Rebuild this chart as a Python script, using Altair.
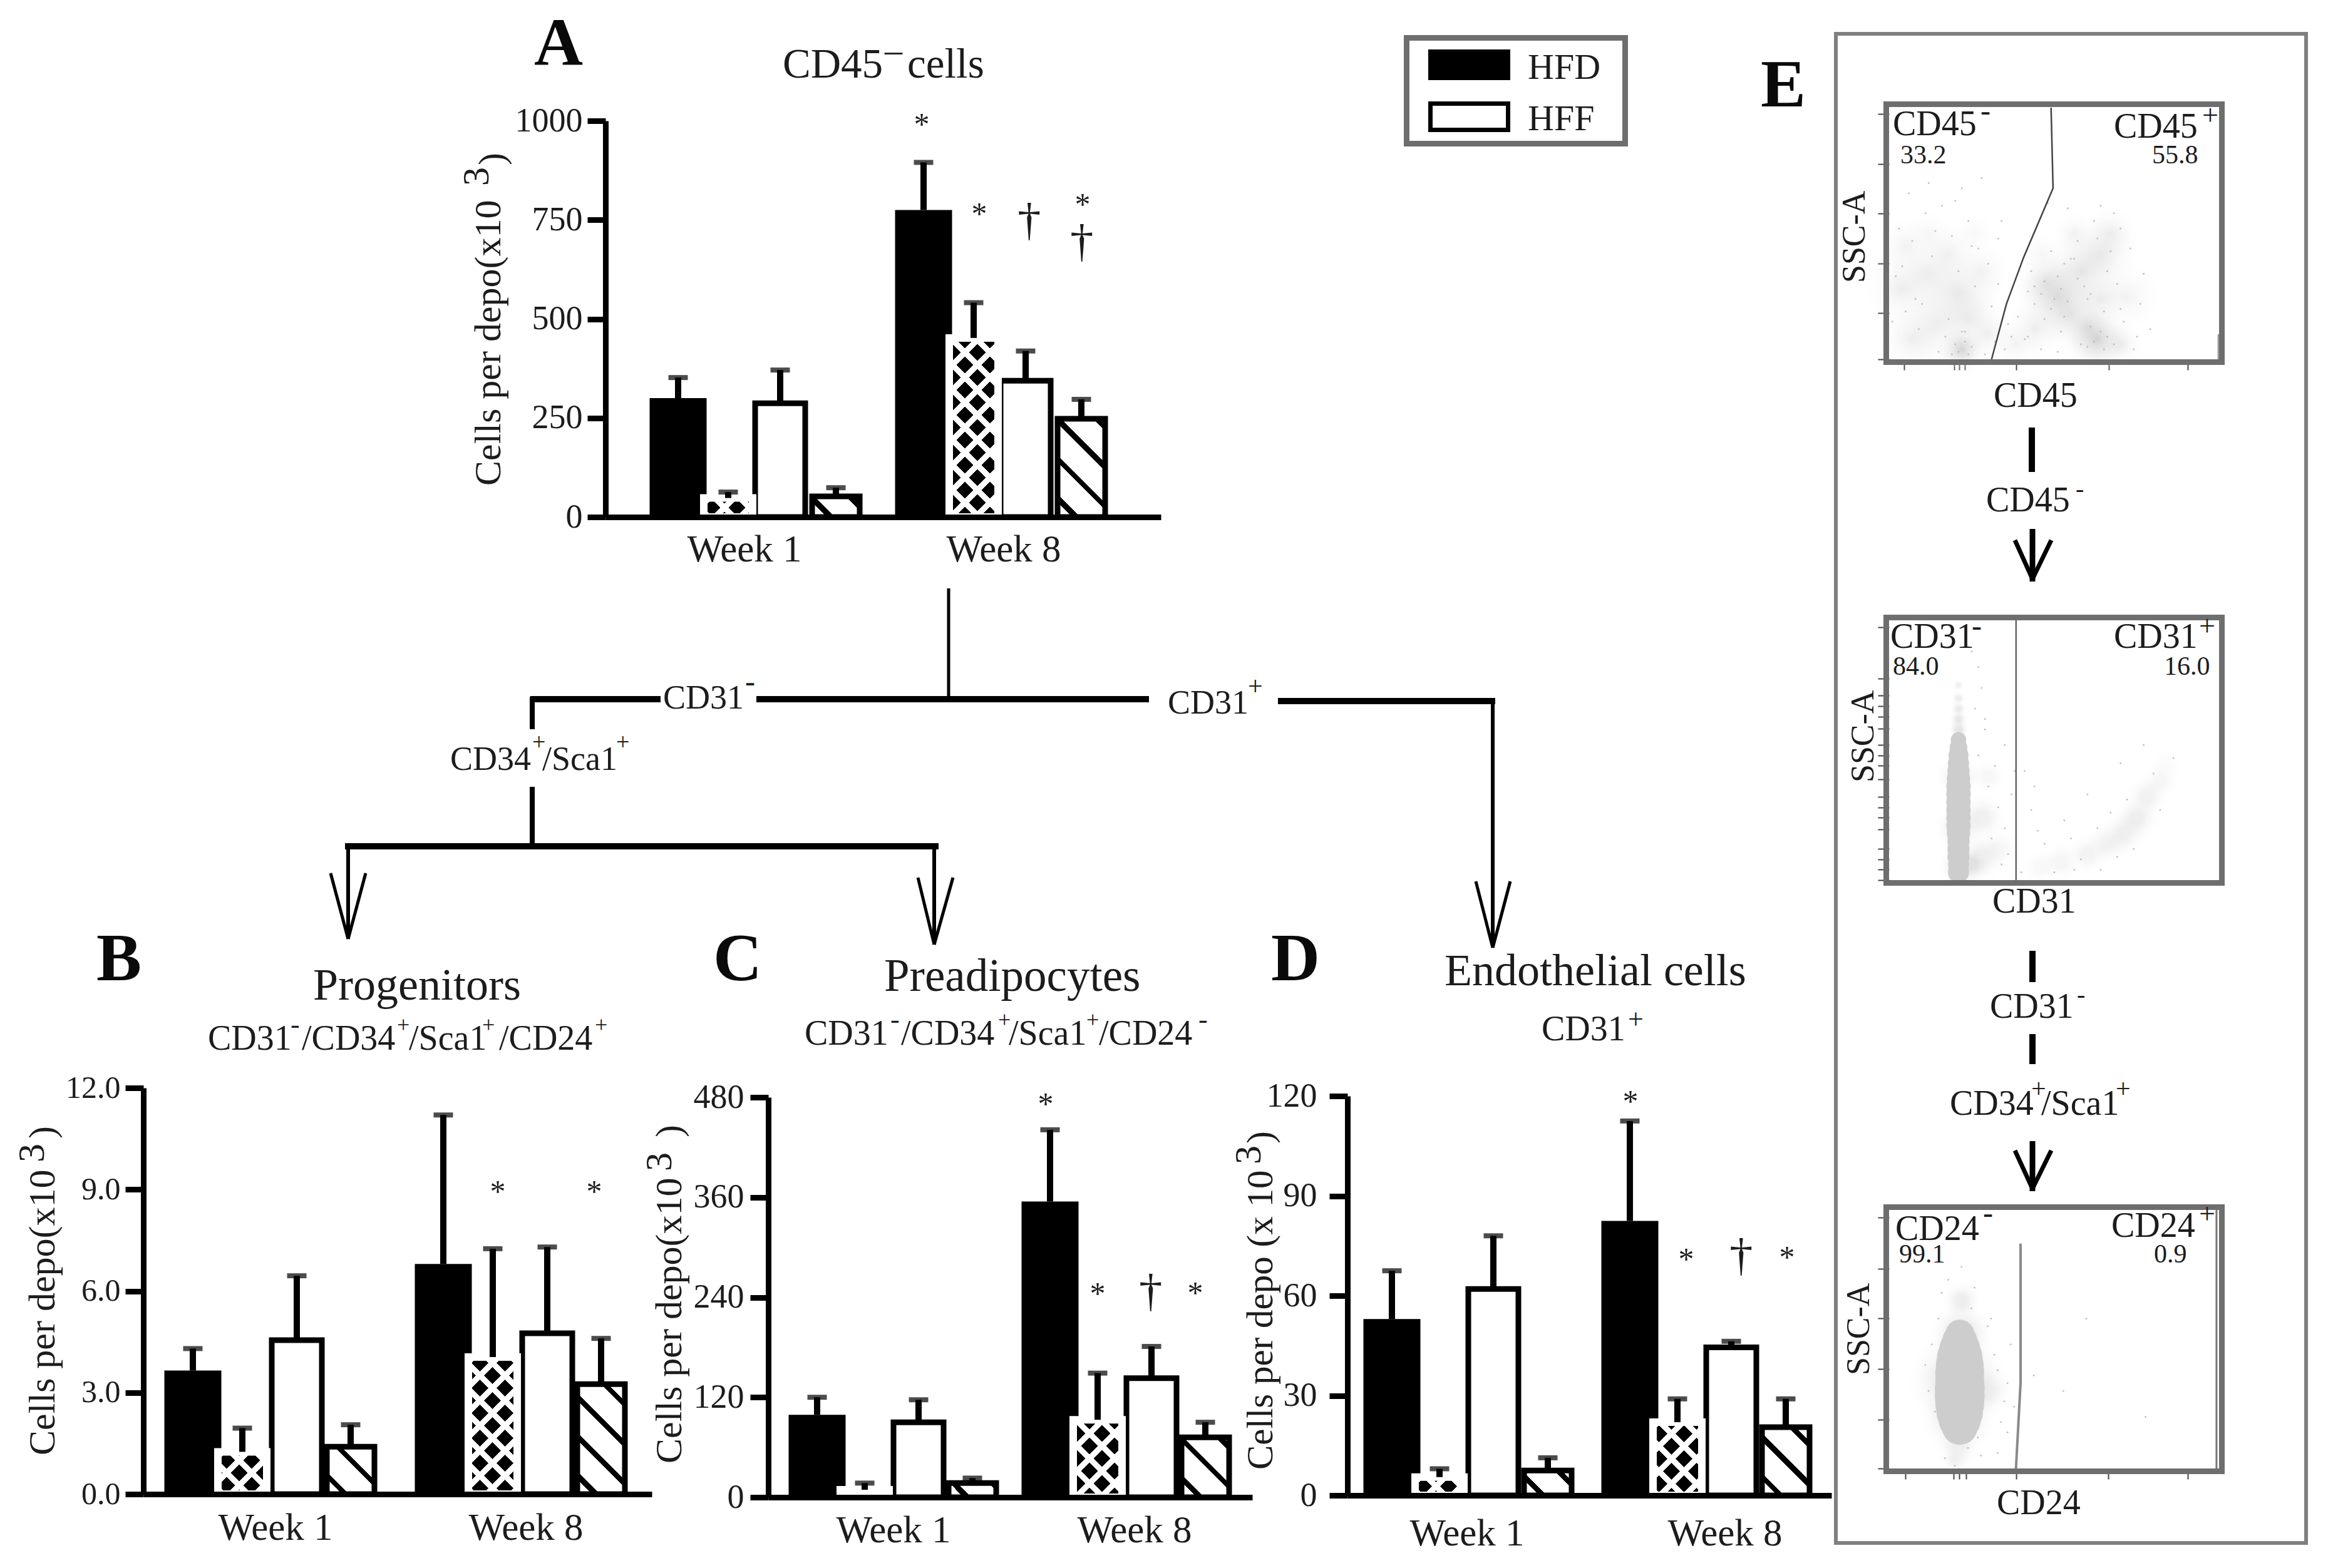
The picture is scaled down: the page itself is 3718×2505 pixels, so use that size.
import altair as alt
import pandas as pd

FONT = "Liberation Serif"
INK = "#1c1c1c"
GREY = "#6e6e6e"
SHIFT = 8
W_TOTAL, H_TOTAL = 3702, 2489

WEEKS = ["Week 1", "Week 8"]
SERIES = ["HFD", "HFD hatched", "HFF", "HFF hatched"]

A_VALUES = [300, 48, 287, 52, 775, 452, 344, 248]
A_TOPS = [352, 63, 371, 74, 895, 541, 419, 297]
B_VALUES = [3.65, 1.25, 4.55, 1.4, 6.8, 4.05, 4.75, 3.25]
B_TOPS = [4.3, 1.95, 6.45, 2.05, 11.2, 7.25, 7.3, 4.6]
C_VALUES = [99, 9, 90, 17, 355, 93, 143, 72]
C_TOPS = [120, 17, 117, 23, 441, 149, 181, 90]
D_VALUES = [53, 5.5, 62, 7.5, 82.5, 22, 44.5, 20.5]
D_TOPS = [67.5, 8, 78, 11.3, 112.5, 29, 46.3, 29]

A_TICKS = [0, 250, 500, 750, 1000]
B_TICKS = [0, 3, 6, 9, 12]
C_TICKS = [0, 120, 240, 360, 480]
D_TICKS = [0, 30, 60, 90, 120]

# flow plots: density patches (x %, y %, radius px, opacity); opacity near 1 = solid core
F1_BLOBS = [(4,28,80,.3),(12,34,80,.3),(21,26,85,.4),(24,16,70,.32),(14,14,85,.3),(22,4,50,.75),
            (28,35,60,.22),(7,8,70,.26),(5,45,60,.22),(18,42,65,.24),(30,10,55,.24),(12,50,50,.14),(26,50,45,.12),
            (51,25,80,.75),(48,30,62,.45),(55,18,75,.45),(63,8,65,.85),(60,13,55,.45),(70,6,46,.3),
            (64,42,75,.4),(67,50,55,.28),(58,35,85,.4),(72,25,70,.22),(44,12,60,.3),(38,6,50,.2),(56,50,45,.22),(64,24,60,.3),(46,42,45,.16)]
F1_DOT_X = [3,7,11,16,19,24,27,30,33,5,9,13,17,21,26,31,36,2,8,15,23,29,35,41,46,52,57,62,68,73,77,44,49,54,59,65,71,75,39,43,
            48,53,61,69,74,6,12,20,28,34,4,10,14,18,25,32,37,42,47,51,56,60,66,70,76,1,22,33,64,79,
            50,52,49,47,54,51,46,53,62,64,60,66,65,61,58,68,21,23,20,24,22,19,25,63,67,70,55,57,44,42]
F1_DOT_Y = [52,47,58,61,49,55,44,38,30,19,12,41,9,35,29,21,14,33,24,3,11,2,4,8,4,11,47,55,58,44,34,22,43,60,29,19,15,9,17,35,
            62,38,26,30,4,66,70,63,72,55,37,22,51,16,45,7,9,27,16,3,40,24,35,20,22,15,68,48,61,12,
            24,28,20,31,23,33,26,17,7,11,5,9,4,13,6,6,3,7,6,2,11,2,5,48,43,52,40,32,29,9]
F2_BLOBS = [(21,3,19,1),(21,6,19,1),(21,9,20,1),(21,12,20,1),(21,15,20,1),(21,18,21,1),(21,21,22,1),(21,24,22,1),(21,27,22,1),
            (21,30,22,1),(21,33,22,1),(21,36,22,1),(21,39,21,1),(21,42,20,1),(21,45,19,1),(21,48,18,1),(21,51,16,1),(21,54,14,.9),
            (21,40,44,.35),(21,20,46,.4),(21,5,40,.4),(21,58,20,.5),(21,62,18,.45),(21,66,16,.4),(21,70,14,.35),(21,75,12,.3),
            (28,24,48,.3),(28,9,48,.3),(33,12,42,.16),(30,40,36,.16),(25,6,38,.45),
            (46,5,36,.14),(52,7,40,.18),(60,10,42,.22),(66,14,42,.26),(71,18,44,.3),(75,24,44,.32),(78,32,42,.26),(82,38,38,.16),(84,44,34,.08)]
F2_DOT_X = [27,30,33,35,29,32,36,26,34,31,28,37,40,43,47,50,55,58,63,67,72,80,86,64,69,74,82,41,45,53,60,70,77,27,25,29,35,38,44,56]
F2_DOT_Y = [48,36,28,20,58,44,10,66,6,16,74,33,3,27,14,3,16,8,20,26,31,41,47,4,9,12,27,42,19,23,33,45,52,82,88,62,52,42,36,4]
F3_BLOBS = [(21,34,96,.6),(21,20,74,.5),(22,52,62,.5),(22,65,38,.35),(21,8,42,.28),(20,3,26,.22),(30,30,50,.25),
            (21.5,34,44,1),(21.5,31,45,1),(21.5,28,45,1),(21.5,25,44,1),(21.5,22,42,1),(21.5,19,38,1),(21.5,16,32,1),
            (21.5,37,44,1),(21.5,40,43,1),(21.5,43,41,1),(21.5,46,37,1),(21.5,49,32,1),(21.5,52,26,1)]
F3_DOT_X = [12,11,14,32,33,35,36,34,30,37,18,22,26,16,24,20,27,28,15,17,25,31,36,38,33,44,53,60,78,13]
F3_DOT_Y = [30,40,22,44,38,26,33,18,55,48,73,78,70,68,8,1,12,5,58,4,62,58,14,24,6,36,30,58,20,48]

F1_GATE = [(49,100),(49.6,68),(40.7,40.5),(35.5,22),(31,0)]
F1_EDGE = [(99.6,10),(99.6,0)]
F2_GATE = [(38.4,100),(38.4,0)]
F3_GATE = [(40,87),(40,33),(38.6,0)]
F3_EDGE = [(99.6,100),(99.6,0)]


def px(v):
    return v - SHIFT


def hatch(width, height, period, thick, falling, line, ground, phase=0.0):
    """Hard-stop gradient that draws 45-degree stripes across one bar."""
    total = width + height
    k = total * width / (width ** 2 + height ** 2)
    stops = []
    p = phase
    while p - thick / 2 < total:
        a = max(0.0, (p - thick / 2) / total)
        b = min(1.0, (p + thick / 2) / total)
        if b > 0:
            stops += [(ground, a), (line, a), (line, b), (ground, b)]
        p += period
    stops = [alt.GradientStop(color=c, offset=round(o, 5)) for c, o in [(ground, 0.0)] + stops + [(ground, 1.0)]]
    if falling:
        return alt.LinearGradient(gradient="linear", stops=stops, x1=0, y1=1, x2=k, y2=1 - k * height / width)
    return alt.LinearGradient(gradient="linear", stops=stops, x1=0, y1=0, x2=k, y2=k * height / width)


def panel(values, tops, ticks, fmt, left, right, y0, ytop, c1, c2, offsets, week_offsets, lab_pad, tick_pad, lab_size):
    left, right, y0, ytop, c1, c2 = map(px, (left, right, y0, ytop, c1, c2))
    band = 300
    step = c2 - c1
    L = c1 - band / 2 - left
    R = right - (c2 + band / 2)
    xscale = alt.Scale(type="band", domain=WEEKS, range=[left, right], paddingInner=1 - band / step,
                       paddingOuter=(L + R) / 2 / step, align=L / (L + R))
    yscale = alt.Scale(domain=[0, ticks[-1]], range=[y0, ytop], nice=False)
    x_plain = alt.X("week:N", scale=xscale, axis=None)
    y_plain = alt.Y("value:Q", scale=yscale, axis=None)
    x_axis = alt.X("week:N", scale=xscale, axis=alt.Axis(
        orient="bottom", title=None, ticks=False, labelAngle=0, labelFont=FONT, labelFontSize=61, labelColor=INK, labelPadding=lab_pad,
        labelLimit=400, domainWidth=9, domainColor="black", offset=y0 - H_TOTAL, zindex=1,
        labelOffset={"condition": {"test": "datum.label == 'Week 8'", "value": week_offsets[1]}, "value": week_offsets[0]}))
    y_axis = alt.Y("value:Q", scale=yscale, axis=alt.Axis(
        orient="left", title=None, values=ticks, format=fmt, labelFont=FONT, labelFontSize=lab_size, labelColor=INK, labelPadding=tick_pad,
        labelLimit=400, domainWidth=9, domainColor="black", tickWidth=9, tickColor="black", tickSize=29, offset=-left, zindex=1, grid=False))
    rows = [dict(week=w, series=s, value=values[4 * i + j], top=tops[4 * i + j], off=offsets[j])
            for i, w in enumerate(WEEKS) for j, s in enumerate(SERIES)]
    unit = (y0 - ytop) / ticks[-1]
    layers = []
    layers.append(alt.Chart(pd.DataFrame([r for r in rows if r["series"] == "HFD"])).mark_bar(
        size=91, color="black", xOffset=offsets[0]).encode(x=x_axis, y=y_axis))
    for r in rows:
        if r["series"] == "HFF":
            layers.append(alt.Chart(pd.DataFrame([r])).mark_bar(
                size=80, fill="white", stroke="black", strokeWidth=9, xOffset=r["off"]).encode(x=x_plain, y=y_plain))
    for r in rows:
        if r["series"] == "HFF hatched":
            H = max(r["value"] * unit, 2)
            grad = hatch(76, H, 63, 12, True, "black", "white", phase=30)
            layers.append(alt.Chart(pd.DataFrame([r])).mark_bar(
                size=76, fill=grad, stroke="black", strokeWidth=9, xOffset=r["off"]).encode(x=x_plain, y=y_plain))
    for r in rows:
        if r["series"] == "HFD hatched":
            H = max(r["value"] * unit, 2)
            clear = "rgba(255,255,255,0)"
            layers.append(alt.Chart(pd.DataFrame([r])).mark_bar(
                size=78, fill="black", stroke="white", strokeWidth=12, xOffset=r["off"]).encode(x=x_plain, y=y_plain))
            layers.append(alt.Chart(pd.DataFrame([r])).mark_bar(
                size=78, fill=hatch(78, H, 40, 13, True, "white", clear, phase=8), xOffset=r["off"]).encode(x=x_plain, y=y_plain))
            layers.append(alt.Chart(pd.DataFrame([r])).mark_bar(
                size=78, fill=hatch(78, H, 40, 13, False, "white", clear, phase=8), xOffset=r["off"]).encode(x=x_plain, y=y_plain))
    for r in rows:
        d = pd.DataFrame([r])
        layers.append(alt.Chart(d).mark_rule(color="black", strokeWidth=10, xOffset=r["off"]).encode(
            x=x_plain, y=y_plain, y2="top:Q"))
        layers.append(alt.Chart(d).mark_tick(color="black", size=31, thickness=8, xOffset=r["off"]).encode(
            x=x_plain, y=alt.Y("top:Q", scale=yscale, axis=None)))
    return layers


def flow(blobs, dot_x, dot_y, gates, left, right, bottom, top, xticks, yticks, tint="#b4b4b4", core=.0):
    left, right, bottom, top = map(px, (left, right, bottom, top))
    xs = alt.Scale(domain=[0, 100], range=[left, right], nice=False)
    ys = alt.Scale(domain=[0, 100], range=[bottom, top], nice=False)
    xa = None
    if xticks:
        xa = alt.Axis(orient="bottom", title=None, values=xticks, labels=False, domain=False, grid=False, tickSize=17, tickWidth=2,
                      tickColor="#444", offset=bottom - H_TOTAL)
    ya = alt.Axis(orient="left", title=None, values=yticks, labels=False, domain=False, grid=False, tickSize=18, tickWidth=2,
                  tickColor="#444", offset=-left)
    df = pd.DataFrame(blobs, columns=["x", "y", "r", "o"])
    df["s"] = 3.14159 * df["r"] ** 2
    haze = df[df["o"] < .9]
    dense = df[df["o"] >= .9]
    dots = pd.DataFrame({"x": dot_x, "y": dot_y})
    soft = alt.RadialGradient(gradient="radial", x1=.5, y1=.5, x2=.5, y2=.5, r1=0, r2=.5, stops=[
        alt.GradientStop(color=tint, offset=0), alt.GradientStop(color=tint, offset=core),
        alt.GradientStop(color="rgba(255,255,255,0)", offset=1)])
    layers = [
        alt.Chart(haze).mark_circle(fill=soft).encode(
            x=alt.X("x:Q", scale=xs, axis=xa), y=alt.Y("y:Q", scale=ys, axis=ya),
            size=alt.Size("s:Q", scale=None), opacity=alt.Opacity("o:Q", scale=None)),
    ]
    if len(dense):
        layers.append(alt.Chart(dense).mark_circle(color=tint, opacity=1).encode(
            x=alt.X("x:Q", scale=xs, axis=None), y=alt.Y("y:Q", scale=ys, axis=None),
            size=alt.Size("s:Q", scale=None)))
    layers.append(alt.Chart(dots).mark_circle(color="#b4b4b4", size=9, opacity=.8).encode(
        x=alt.X("x:Q", scale=xs, axis=None), y=alt.Y("y:Q", scale=ys, axis=None)))
    for pts, w, col in gates:
        g = pd.DataFrame(pts, columns=["x", "y"]).reset_index()
        layers.append(alt.Chart(g).mark_line(color=col, strokeWidth=w).encode(
            x=alt.X("x:Q", scale=xs, axis=None), y=alt.Y("y:Q", scale=ys, axis=None), order="index:Q"))
    return layers


TEXTS = []


def T(t, x, y, s=56, a=0):
    TEXTS.append(dict(t=t, x=px(x), y=px(y), s=s, a=a))


def sup(sign, x, cy, s=44):
    T(sign, x, cy + .25 * s, s)


def star(cx, cy):
    T("*", cx - 12.5, cy + 23, 50)


def dagger(cx, cy):
    T("†", cx - 19, cy + 20, 75)


# panel A
T("CD45", 1250, 124, 67); sup("–", 1413, 85, 56); T("cells", 1449, 124, 67)
T("Cells per depo(x10", 799, 776, 60, 270); T("3", 780, 297, 60, 270); T(")", 805, 264, 60, 270)
star(1472, 192); star(1564, 335); dagger(1644, 355); star(1729, 320); dagger(1728, 389)
# tree labels
T("CD31", 1059, 1132, 54); sup("-", 1190, 1093, 48)
T("CD31", 1865, 1140, 54); sup("+", 1993, 1099, 42)
T("CD34", 719, 1230, 54); sup("+", 850, 1188, 38); T("/Sca1", 866, 1230, 54); sup("+", 984, 1188, 38)
# panel B
T("Progenitors", 500, 1597, 72)
T("CD31", 332, 1677, 56); sup("-", 464, 1640, 44); T("/CD34", 482, 1677, 56); sup("+", 634, 1640, 36)
T("/Sca1", 653, 1677, 56); sup("+", 770, 1640, 36); T("/CD24", 797, 1677, 56); sup("+", 950, 1640, 36)
T("Cells per depo(x10", 87, 2325, 60, 270); T("3", 70, 1857, 60, 270); T(")", 87, 1819, 60, 270)
star(795, 1897); star(949, 1897)
# panel C
T("Preadipocytes", 1412, 1583, 73)
T("CD31", 1285, 1669, 56); sup("-", 1422, 1632, 44); T("/CD34", 1439, 1669, 56); sup("+", 1594, 1632, 36)
T("/Sca1", 1611, 1669, 56); sup("+", 1735, 1632, 36); T("/CD24", 1755, 1669, 56); sup("-", 1914, 1632, 44)
T("Cells per depo(x10", 1088, 2338, 60, 270); T("3", 1072, 1871, 60, 270); T(")", 1088, 1817, 60, 270)
star(1670, 1757); star(1753, 2060); dagger(1838, 2066); star(1909, 2059)
# panel D
T("Endothelial cells", 2307, 1574, 72)
T("CD31", 2462, 1662, 56); sup("+", 2600, 1632, 44)
T("Cells per depo (x 10", 2032, 2348, 59, 270); T("3", 2013, 1860, 60, 270); T(")", 2032, 1827, 60, 270)
star(2604, 1753); star(2693, 2005); dagger(2781, 2009); star(2854, 2002)
# legend
T("HFD", 2440, 126, 58); T("HFF", 2440, 208, 58)
# panel E
T("CD45", 3023, 216, 56); sup("-", 3163, 181, 48); T("33.2", 3035, 261, 42)
T("CD45", 3376, 220, 56); sup("+", 3517, 187, 46); T("55.8", 3437, 261, 42)
T("SSC-A", 2978, 452, 52, 270); T("CD45", 3184, 650, 56)
T("CD45", 3172, 817, 56); sup("-", 3315, 784, 40)
T("CD31", 3019, 1035, 56); sup("-", 3149, 1004, 48); T("84.0", 3023, 1078, 42)
T("CD31", 3376, 1035, 56); sup("+", 3512, 1003, 46); T("16.0", 3456, 1078, 42)
T("SSC-A", 2992, 1250, 52, 270); T("CD31", 3182, 1458, 56)
T("CD31", 3178, 1626, 56); sup("-", 3317, 1592, 40)
T("CD34", 3114, 1781, 56); sup("+", 3244, 1742, 42); T("/Sca1", 3260, 1781, 56); sup("+", 3379, 1742, 42)
T("CD24", 3027, 1981, 56); sup("-", 3167, 1942, 48); T("99.1", 3033, 2017, 42)
T("CD24", 3372, 1976, 56); sup("+", 3512, 1942, 46); T("0.9", 3440, 2017, 42)
T("SSC-A", 2985, 2197, 52, 270); T("CD24", 3189, 2419, 56)

LETTERS = [("A", 853, 104), ("B", 154, 1566), ("C", 1139, 1566), ("D", 2030, 1566), ("E", 2812, 170)]

# connector lines: x, y, x2, y2, width
LINES = [
    (1515, 940, 1515, 1116, 5), (847, 1117, 1055, 1117, 10), (1208, 1117, 1835, 1117, 10), (2041, 1120, 2388, 1120, 10),
    (850, 1113, 850, 1165, 8), (850, 1257, 850, 1348, 8), (551, 1352, 1499, 1352, 10),
    (556, 1348, 556, 1500, 6), (528, 1395, 556, 1500, 5), (584, 1395, 556, 1500, 5),
    (1492, 1348, 1492, 1509, 6), (1466, 1402, 1492, 1509, 5), (1522, 1402, 1492, 1509, 5),
    (2384, 1116, 2384, 1514, 6), (2357, 1408, 2384, 1514, 5), (2412, 1408, 2384, 1514, 5),
    (3245, 683, 3245, 754, 10), (3246, 845, 3246, 929, 9), (3218, 863, 3246, 925, 7), (3276, 863, 3246, 925, 7),
    (3246, 1519, 3246, 1569, 10), (3246, 1652, 3246, 1700, 10),
    (3246, 1823, 3246, 1903, 9), (3218, 1838, 3246, 1899, 7), (3276, 1838, 3246, 1899, 7),
]
# outlined boxes: x, y, x2, y2, colour, width
BOXES = [
    (2932, 54, 3683, 2465, "#808080", 6),
    (2246.5, 60.5, 2595.5, 229.5, GREY, 9),
    (3012.5, 166.5, 3548.5, 578.5, GREY, 9),
    (3012.5, 986.5, 3548.5, 1410.5, GREY, 9),
    (3012.5, 1928.5, 3548.5, 2350.5, GREY, 9),
    (2284.5, 165.5, 2408.5, 207.5, "black", 7),
]
SOLID = [(2281, 79, 2412, 128)]

pA = panel(A_VALUES, A_TOPS, A_TICKS, "d", 967, 1854, 826, 193, 1208, 1600, [-125, -45, 38, 127], [-19, 3], 22, 8, 54)
pB = panel(B_VALUES, B_TOPS, B_TICKS, ".1f", 229, 1041, 2387, 1738, 432, 832, [-124, -45, 42, 128], [8, 8], 24, 8, 50)
pC = panel(C_VALUES, C_TOPS, C_TICKS, "d", 1227, 2000, 2392, 1753, 1427, 1799, [-122, -46, 40, 126], [0, 13], 23, 10, 54)
pD = panel(D_VALUES, D_TOPS, D_TICKS, "d", 2152, 2925, 2389, 1751, 2345, 2725, [-122, -46, 40, 127], [-2, 30], 31, 20, 54)

f1 = flow(F1_BLOBS, F1_DOT_X, F1_DOT_Y, [(F1_GATE, 2.5, "#444"), (F1_EDGE, 2.5, "#999")], 3017, 3545, 574, 172,
          [4.5, 19.7, 21.3, 22.9, 38.4, 66.4, 90.3], [0, 18.4, 38, 57.9, 77.6, 97.5], tint="#c4c4c4")
f2 = flow(F2_BLOBS, F2_DOT_X, F2_DOT_Y, [(F2_GATE, 2, "#444")], 3017, 3545, 1406, 991, None,
          [0, 4, 8, 12, 19.4, 24, 28, 32, 38.8, 44, 48, 52, 58.2, 63, 67, 71, 77.7, 97.3], tint="#cdcdcd", core=.25)
f3 = flow(F3_BLOBS, F3_DOT_X, F3_DOT_Y, [(F3_GATE, 4, "#8a8a8a"), (F3_EDGE, 3, "#777")], 3017, 3542, 2346, 1933,
          [5, 19.7, 21.3, 23.4, 38.6, 66.7, 90.8], [0, 18.8, 38.4, 58.2, 77.3, 97.2], tint="#cdcdcd", core=.25)

xn = lambda f: alt.X(f, scale=None, axis=None)
yn = lambda f: alt.Y(f, scale=None, axis=None)

line_df = pd.DataFrame(LINES, columns=["x", "y", "x2", "y2", "w"])
line_df[["x", "x2", "y", "y2"]] -= SHIFT
lines = alt.Chart(line_df).mark_rule(color="black").encode(
    x=xn("x:Q"), x2="x2:Q", y=yn("y:Q"), y2="y2:Q", strokeWidth=alt.StrokeWidth("w:Q", scale=None))

box_df = pd.DataFrame(BOXES, columns=["x", "y", "x2", "y2", "c", "w"])
box_df[["x", "x2", "y", "y2"]] -= SHIFT
boxes = alt.Chart(box_df).mark_rect(fillOpacity=0).encode(
    x=xn("x:Q"), x2="x2:Q", y=yn("y:Q"), y2="y2:Q",
    stroke=alt.Stroke("c:N", scale=None), strokeWidth=alt.StrokeWidth("w:Q", scale=None))

solid_df = pd.DataFrame(SOLID, columns=["x", "y", "x2", "y2"]) - SHIFT
solid = alt.Chart(solid_df).mark_rect(color="black").encode(x=xn("x:Q"), x2="x2:Q", y=yn("y:Q"), y2="y2:Q")

texts = alt.Chart(pd.DataFrame(TEXTS)).mark_text(align="left", baseline="alphabetic", font=FONT, color=INK).encode(
    x=xn("x:Q"), y=yn("y:Q"), text="t:N", size=alt.Size("s:Q", scale=None), angle=alt.Angle("a:Q", scale=None))

let_df = pd.DataFrame(LETTERS, columns=["t", "x", "y"])
let_df[["x", "y"]] -= SHIFT
letters = alt.Chart(let_df).mark_text(align="left", baseline="alphabetic", font=FONT, fontWeight="bold", fontSize=108, color="#0a0a0a").encode(
    x=xn("x:Q"), y=yn("y:Q"), text="t:N")

chart = alt.layer(*pA, *pB, *pC, *pD, *f1, *f2, *f3, lines, boxes, solid, texts, letters).resolve_scale(
    x="independent", y="independent"
).properties(
    width=W_TOTAL, height=H_TOTAL, padding=0, background="white",
    autosize=alt.AutoSizeParams(type="none"),
).configure_view(stroke=None).configure_axis(grid=False)

chart.save("out.html", embed_options={"renderer": "svg", "actions": False})
